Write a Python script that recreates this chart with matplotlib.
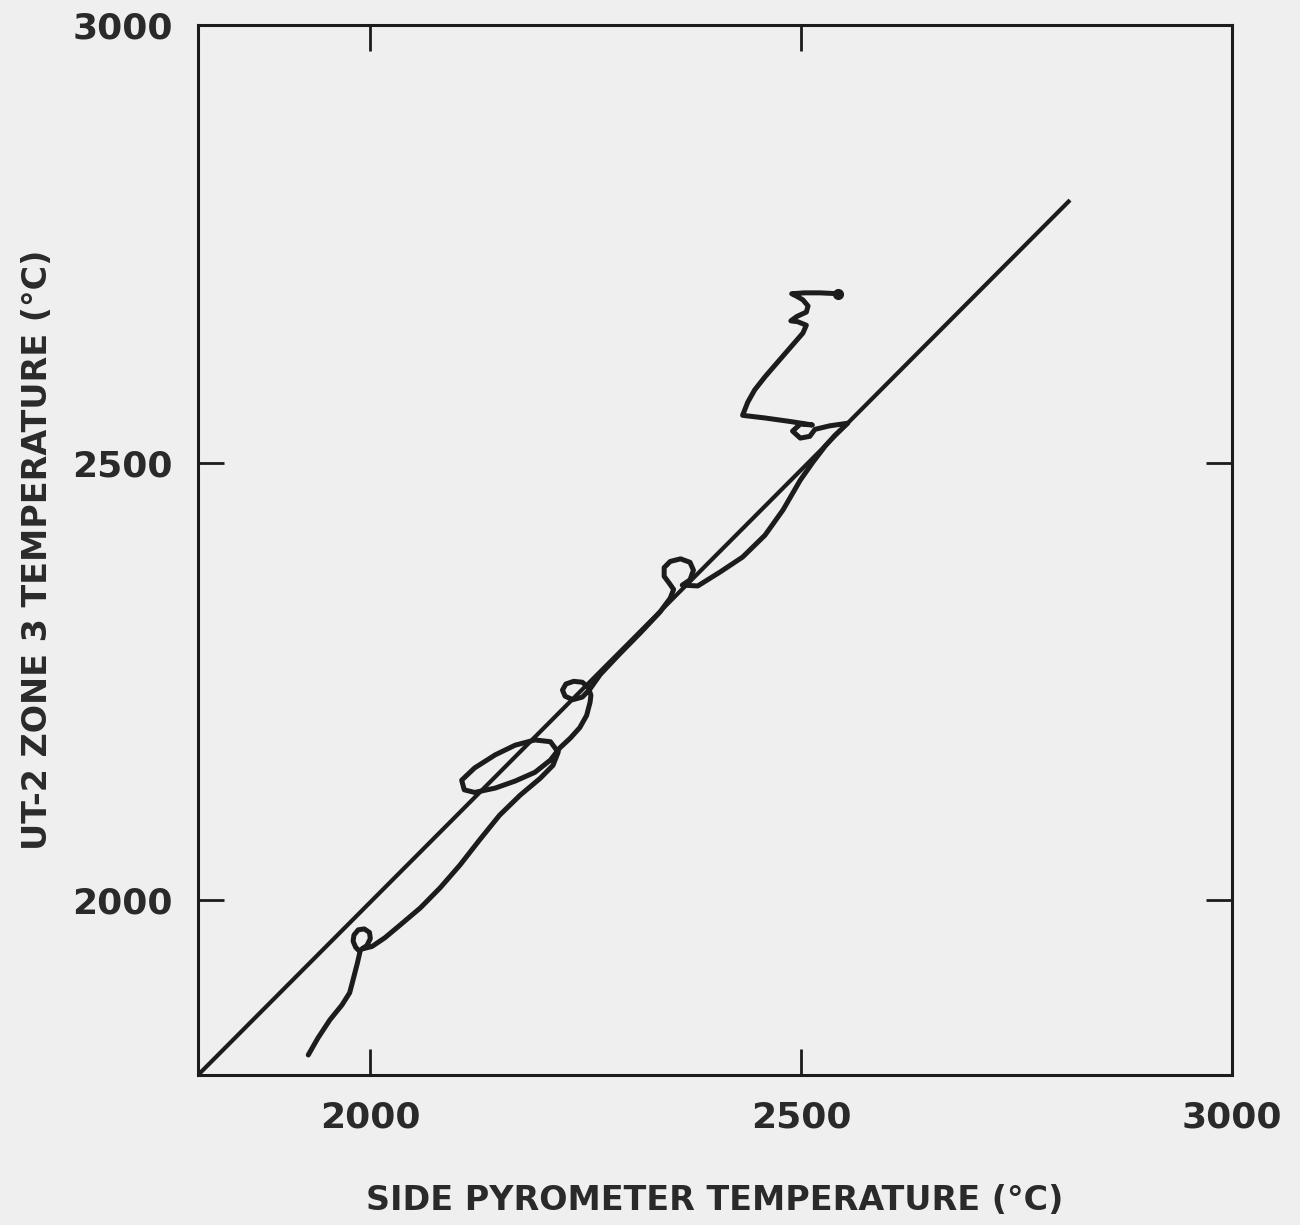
import matplotlib
matplotlib.use('Agg')
import matplotlib.pyplot as plt

# Side pyrometer vs UT-2 zone 3 temperature trace (deg C), in recorded order
side_temp = [
    1928, 1939, 1953, 1967, 1976, 1980, 1985, 1988,
    1983, 1980, 1981, 1986, 1993, 1999, 2000, 1996, 1990,
    2002, 2017, 2034, 2058, 2081, 2104, 2127, 2150, 2174, 2197, 2212, 2218,
    2209, 2191, 2168, 2145, 2121, 2106, 2109, 2121, 2145, 2168, 2191, 2209, 2220,
    2232, 2243, 2251, 2255,
    2256, 2253, 2246, 2236, 2227, 2223, 2226, 2235, 2246, 2254,
    2267, 2290, 2313, 2336, 2348,
    2352, 2347, 2341, 2341, 2348, 2360, 2371, 2375, 2371, 2362,
    2380, 2406, 2432, 2458, 2479, 2499, 2514, 2528, 2539, 2554,
    2533, 2516, 2510, 2499, 2490, 2499, 2513,
    2487, 2458, 2432,
    2438, 2446, 2458, 2472, 2487, 2502, 2506,
    2496, 2488, 2495, 2506, 2508, 2502, 2495, 2489,
    2504, 2522, 2543,
]
zone3_temp = [
    1823, 1842, 1863, 1880, 1894, 1909, 1928, 1941,
    1946, 1953, 1960, 1966, 1967, 1963, 1956, 1948, 1944,
    1947, 1957, 1971, 1991, 2014, 2040, 2069, 2097, 2120, 2139, 2154, 2169,
    2181, 2183, 2177, 2166, 2151, 2137, 2126, 2123, 2128, 2136, 2146, 2160, 2174,
    2185, 2197, 2211, 2226,
    2234, 2243, 2249, 2250, 2247, 2240, 2233, 2229, 2232, 2240,
    2258, 2282, 2305, 2329, 2345,
    2355, 2362, 2370, 2380, 2387, 2390, 2386, 2377, 2366, 2360,
    2359, 2375, 2392, 2417, 2446, 2480, 2501, 2519, 2531, 2545,
    2542, 2538, 2530, 2528, 2536, 2544, 2543,
    2547, 2551, 2554,
    2569, 2583, 2598, 2614, 2631, 2648, 2657,
    2661, 2662, 2667, 2672, 2679, 2686, 2690, 2693,
    2694, 2694, 2693,
]

# Reference line
ref_x = [1800, 2812]
ref_y = [1800, 2800]

ticks = [2000, 2500, 3000]
tick_labels = ['2000', '2500', '3000']

INK = '#1c1c1c'
PAPER = '#efefef'


def main():
    plt.rcParams['font.family'] = ['DejaVu Sans']
    plt.rcParams['font.weight'] = 'bold'

    fig = plt.figure(figsize=(13, 12.25), dpi=100, facecolor=PAPER)
    ax = fig.add_axes([0.1523, 0.1224, 0.7954, 0.8571])
    ax.set_facecolor(PAPER)

    ax.plot(ref_x, ref_y, color=INK, lw=3.0, solid_capstyle='butt')
    ax.plot(side_temp, zone3_temp, color=INK, lw=3.6,
            solid_joinstyle='round', solid_capstyle='round')
    ax.plot(side_temp[-1], zone3_temp[-1], 'o', color=INK, ms=7)

    ax.set_xlim(1800, 3000)
    ax.set_ylim(1800, 3000)
    ax.set_xticks(ticks)
    ax.set_xticklabels(tick_labels)
    ax.set_yticks(ticks)
    ax.set_yticklabels(tick_labels)

    ax.tick_params(direction='in', length=19, width=2.0, color=INK,
                   top=True, right=True, labelsize=26, labelcolor='#2a2a2a',
                   pad=18)
    for sp in ax.spines.values():
        sp.set_linewidth(2.2)
        sp.set_color(INK)

    ax.set_xlabel('SIDE PYROMETER TEMPERATURE (°C)', fontsize=24,
                  fontweight='bold', color='#2a2a2a', labelpad=36)
    ax.set_ylabel('UT-2 ZONE 3 TEMPERATURE (°C)', fontsize=24,
                  fontweight='bold', color='#2a2a2a', labelpad=13)

    fig.savefig('out.png', dpi=100, facecolor=PAPER)


if __name__ == '__main__':
    main()
